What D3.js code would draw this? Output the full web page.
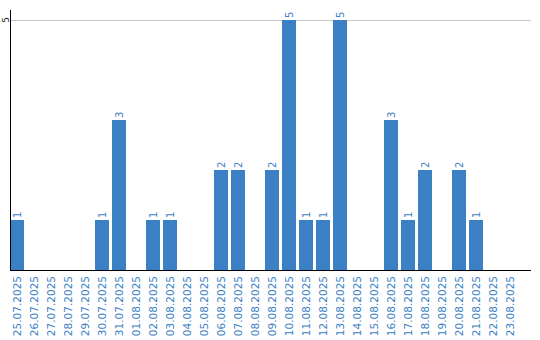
<!DOCTYPE html>
<html><head><meta charset="utf-8">
<script src="https://cdn.jsdelivr.net/npm/d3@7"></script>
<style>body{margin:0;background:#fff}svg{display:block}</style>
</head><body>
<svg id="c" width="540" height="340"></svg>
<script>
const categories = ["25.07.2025","26.07.2025","27.07.2025","28.07.2025","29.07.2025","30.07.2025","31.07.2025","01.08.2025","02.08.2025","03.08.2025","04.08.2025","05.08.2025","06.08.2025","07.08.2025","08.08.2025","09.08.2025","10.08.2025","11.08.2025","12.08.2025","13.08.2025","14.08.2025","15.08.2025","16.08.2025","17.08.2025","18.08.2025","19.08.2025","20.08.2025","21.08.2025","22.08.2025","23.08.2025"];
const values = [1,0,0,0,0,1,3,0,1,1,0,0,2,2,0,2,5,1,1,5,0,0,3,1,2,0,2,1,0,0];
const yTicks = [5];

const svg = d3.select("#c");
const blue = "#3b7fc4";
const x = d3.scaleBand().domain(categories).range([10, 10 + 17*categories.length - 3]).paddingInner(3/17).paddingOuter(0);
const y = d3.scaleLinear().domain([0, 5]).range([270, 20]);

// gridline
svg.selectAll("line.grid").data(yTicks).join("line")
  .attr("x1", 11).attr("x2", 531)
  .attr("y1", d => Math.round(y(d)) + 0.5).attr("y2", d => Math.round(y(d)) + 0.5)
  .attr("stroke", "#c8c8c8").attr("stroke-width", 1);

// y tick labels
svg.selectAll("text.yt").data(yTicks).join("text")
  .attr("transform", d => `translate(8.5,${y(d)}) rotate(-90)`)
  .attr("text-anchor", "middle")
  .attr("font-family", "DejaVu Sans, Verdana, sans-serif")
  .attr("font-size", 9).attr("fill", "#222")
  .text(d => d);

// bars
svg.selectAll("rect.bar").data(values).join("rect")
  .attr("x", (d, i) => x(categories[i]))
  .attr("width", x.bandwidth())
  .attr("y", d => y(d))
  .attr("height", d => y(0) - y(d))
  .attr("fill", blue);

// value labels
svg.selectAll("text.v").data(values.map((v,i)=>({v,i})).filter(d => d.v > 0)).join("text")
  .attr("transform", d => `translate(${x(categories[d.i]) + x.bandwidth()/2 + 3.5},${y(d.v) - 2}) rotate(-90)`)
  .attr("text-anchor", "start")
  .attr("font-family", "DejaVu Sans, Verdana, sans-serif")
  .attr("font-size", 10).attr("fill", blue)
  .text(d => d.v);

// x tick labels
svg.selectAll("text.xt").data(categories).join("text")
  .attr("transform", d => `translate(${x(d) + x.bandwidth()/2 + 4},276) rotate(-90)`)
  .attr("text-anchor", "end")
  .attr("font-family", "DejaVu Sans, Verdana, sans-serif")
  .attr("font-size", 10.5).attr("fill", blue)
  .text(d => d);

// axes lines
svg.append("line").attr("x1", 10.5).attr("x2", 10.5).attr("y1", 10).attr("y2", 271).attr("stroke", "#000").attr("stroke-width", 1);
svg.append("line").attr("x1", 10).attr("x2", 531).attr("y1", 270.5).attr("y2", 270.5).attr("stroke", "#000").attr("stroke-width", 1.2);
</script>
</body></html>
